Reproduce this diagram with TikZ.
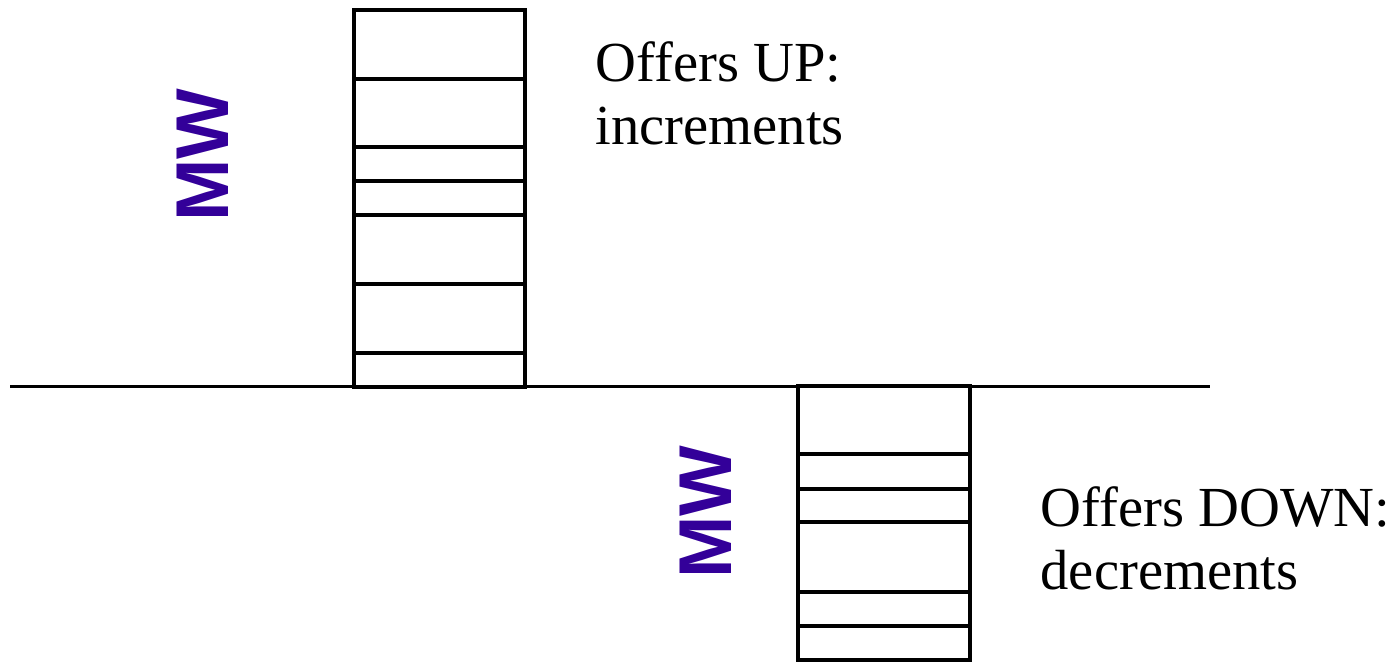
\documentclass[tikz,border=0pt]{standalone}
\usepackage{fontspec}
\setmainfont{Liberation Serif}
\newfontfamily\mwfont{Liberation Sans}
\usepackage{tikz}
\usetikzlibrary{calc}
\definecolor{mwblue}{RGB}{51,0,153}
\tikzset{
	stackline/.style={line width=0.9pt},
	offerlabel/.style={anchor=north west,inner sep=0pt,align=left,font=\fontsize{16.1}{17.9}\selectfont},
	mwlabel/.style={rotate=90,inner sep=0pt,text=mwblue,font=\mwfont\bfseries\fontsize{21.3}{22}\selectfont}
}

\begin{document}
\begin{tikzpicture}
		% page frame, fixes the margins
		\useasboundingbox (0,0) rectangle (13.96,-6.62);
		% zero line
		\coordinate (zl) at (0.10,-3.865);
		\coordinate (zr) at (12.10,-3.865);
		\draw[stackline] (zl) -- (zr);
		% offers up
		\draw[stackline] (3.54,-0.10) rectangle (5.25,-3.87);
		\foreach \y in {0.79,1.47,1.81,2.15,2.84,3.53}
			\draw[stackline] (3.54,-\y) -- (5.25,-\y);
		% offers down
		\draw[stackline] (7.98,-3.86) rectangle (9.70,-6.60);
		\foreach \y in {4.54,4.89,5.22,5.92,6.26}
			\draw[stackline] (7.98,-\y) -- (9.70,-\y);
		\node[mwlabel] (mwup) at (2.03,-1.55) {MW};
		\node[mwlabel] (mwdown) at (7.06,-5.12) {MW};
		\node[offerlabel] (up) at (5.95,-0.41) {Offers UP:\\increments};
		\node[offerlabel] (down) at (10.40,-4.86) {Offers DOWN:\\decrements};
	\end{tikzpicture}
\end{document}
